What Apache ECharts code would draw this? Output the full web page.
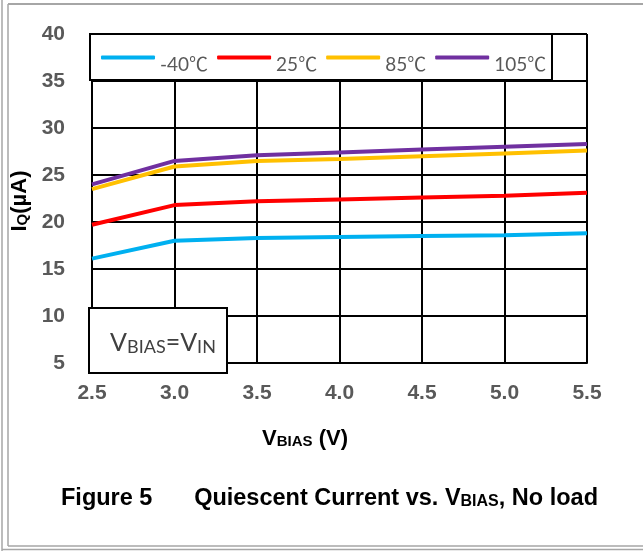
<!DOCTYPE html>
<html><head><meta charset="utf-8">
<script src="https://cdn.jsdelivr.net/npm/echarts@6/dist/echarts.min.js"></script>
<style>html,body{margin:0;padding:0;background:#fff}#c{width:643px;height:551px}</style>
</head><body><div id="c"></div>
<script>
// data
const vbias = [2.5, 3.0, 3.5, 4.0, 4.5, 5.0, 5.5];
const iqMinus40 = [16.1, 18.0, 18.3, 18.4, 18.5, 18.6, 18.8];
const iq25 = [19.7, 21.8, 22.2, 22.4, 22.6, 22.8, 23.1];
const iq85 = [23.5, 25.9, 26.5, 26.7, 27.0, 27.3, 27.6];
const iq105 = [24.0, 26.5, 27.1, 27.4, 27.7, 28.0, 28.3];
const seriesNames = ['-40℃', '25℃', '85℃', '105℃'];
const xTickLabels = ['2.5', '3.0', '3.5', '4.0', '4.5', '5.0', '5.5'];
const yTickLabels = ['5', '10', '15', '20', '25', '30', '35', '40'];

const pairs = arr => vbias.map((x, i) => [x, arr[i]]);
const colors = ['#00B0F0', '#FF0000', '#FFC000', '#7030A0'];
const allData = [iqMinus40, iq25, iq85, iq105];

const chart = echarts.init(document.getElementById('c'), null, {renderer: 'canvas'});
const arial = "'Liberation Sans', Arial, sans-serif";
const calibri = "Lato, 'Noto Sans CJK SC', sans-serif";
const frame = '#a6a6a6';

chart.setOption({
  backgroundColor: '#fff',
  animation: false,
  grid: {left: 92, top: 34, width: 495, height: 329, containLabel: false},
  xAxis: {
    type: 'value', min: 2.5, max: 5.5, interval: 0.5,
    axisLine: {show: true, lineStyle: {color: '#000', width: 2}},
    axisTick: {show: false},
    splitLine: {show: true, lineStyle: {color: '#000', width: 2}},
    axisLabel: {
      margin: 20, fontSize: 21, fontWeight: 'bold', fontFamily: arial, color: '#595959',
      formatter: v => xTickLabels[Math.round((v - 2.5) / 0.5)]
    }
  },
  yAxis: {
    type: 'value', min: 5, max: 40, interval: 5,
    axisLine: {show: true, lineStyle: {color: '#000', width: 2}},
    axisTick: {show: false},
    splitLine: {show: true, lineStyle: {color: '#000', width: 2}},
    axisLabel: {
      margin: 27, fontSize: 21, fontWeight: 'bold', fontFamily: arial, color: '#595959',
      formatter: v => yTickLabels[Math.round((v - 5) / 5)]
    }
  },
  legend: {
    z: 20,
    left: 101, top: 55,
    padding: 0,
    itemWidth: 54, itemHeight: 4, itemGap: 9,
    icon: 'roundRect',
    data: seriesNames,
    formatter: name => '{t|' + name + '}',
    textStyle: {
      fontFamily: calibri, fontSize: 19, color: '#595959',
      rich: {t: {fontFamily: calibri, fontSize: 19, color: '#595959', padding: [14, 0, 0, 0]}}
    }
  },
  series: allData.map((d, i) => ({
    name: seriesNames[i], type: 'line', data: pairs(d),
    symbol: 'none', smooth: false,
    color: colors[i],
    lineStyle: {width: 4, color: colors[i]}
  })),
  graphic: [
    // outer frame
    {type: 'line', z: 50, shape: {x1: 2, y1: 0, x2: 2, y2: 551}, style: {stroke: frame, lineWidth: 1.5}},
    {type: 'line', z: 50, shape: {x1: 8, y1: 4, x2: 8, y2: 546}, style: {stroke: frame, lineWidth: 1.5}},
    {type: 'line', z: 50, shape: {x1: 8, y1: 4, x2: 643, y2: 4}, style: {stroke: frame, lineWidth: 2}},
    {type: 'line', z: 50, shape: {x1: 8, y1: 546, x2: 643, y2: 546}, style: {stroke: frame, lineWidth: 1.5}},
    {type: 'line', z: 50, shape: {x1: 2, y1: 549.5, x2: 643, y2: 549.5}, style: {stroke: frame, lineWidth: 1.5}},
    // legend box
    {type: 'rect', z: 10, shape: {x: 90, y: 34, width: 462, height: 46},
     style: {fill: '#fff', stroke: '#000', lineWidth: 2}},
    // annotation box
    {type: 'rect', z: 10, shape: {x: 89, y: 308, width: 138, height: 65},
     style: {fill: '#fff', stroke: '#000', lineWidth: 2}},
    {type: 'text', z: 11, x: 163, y: 343,
     style: {
       text: '{b|V}{s|BIAS}{b|=V}{s|IN}', align: 'center', verticalAlign: 'middle',
       rich: {
         b: {fontFamily: calibri, fontSize: 25, fill: '#404040'},
         s: {fontFamily: calibri, fontSize: 18, fill: '#404040', padding: [8, 0, 0, 0]}
       }
     }},
    // y axis title
    {type: 'text', z: 11, x: 20, y: 201, rotation: Math.PI / 2,
     style: {
       text: '{b|I}{s|Q}{b|(µA)}', align: 'center', verticalAlign: 'middle',
       rich: {
         b: {fontFamily: arial, fontWeight: 'bold', fontSize: 22, fill: '#000'},
         s: {fontFamily: arial, fontWeight: 'bold', fontSize: 15, fill: '#000', padding: [6, 0, 0, 0]}
       }
     }},
    // x axis title
    {type: 'text', z: 11, x: 305, y: 439,
     style: {
       text: '{b|V}{s|BIAS}{b| (V)}', align: 'center', verticalAlign: 'middle',
       rich: {
         b: {fontFamily: arial, fontWeight: 'bold', fontSize: 22, fill: '#000'},
         s: {fontFamily: arial, fontWeight: 'bold', fontSize: 15, fill: '#000', padding: [5, 0, 0, 0]}
       }
     }},
    // caption
    {type: 'text', z: 11, x: 61, y: 499,
     style: {
       text: 'Figure 5', align: 'left', verticalAlign: 'middle',
       fontFamily: arial, fontWeight: 'bold', fontSize: 23.5, fill: '#000'
     }},
    {type: 'text', z: 11, x: 598, y: 499,
     style: {
       text: '{b|Quiescent Current vs. V}{s|BIAS}{b|, No load}', align: 'right', verticalAlign: 'middle',
       rich: {
         b: {fontFamily: arial, fontWeight: 'bold', fontSize: 23.5, fill: '#000'},
         s: {fontFamily: arial, fontWeight: 'bold', fontSize: 16, fill: '#000', padding: [6, 0, 0, 0]}
       }
     }}
  ]
});
</script></body></html>
